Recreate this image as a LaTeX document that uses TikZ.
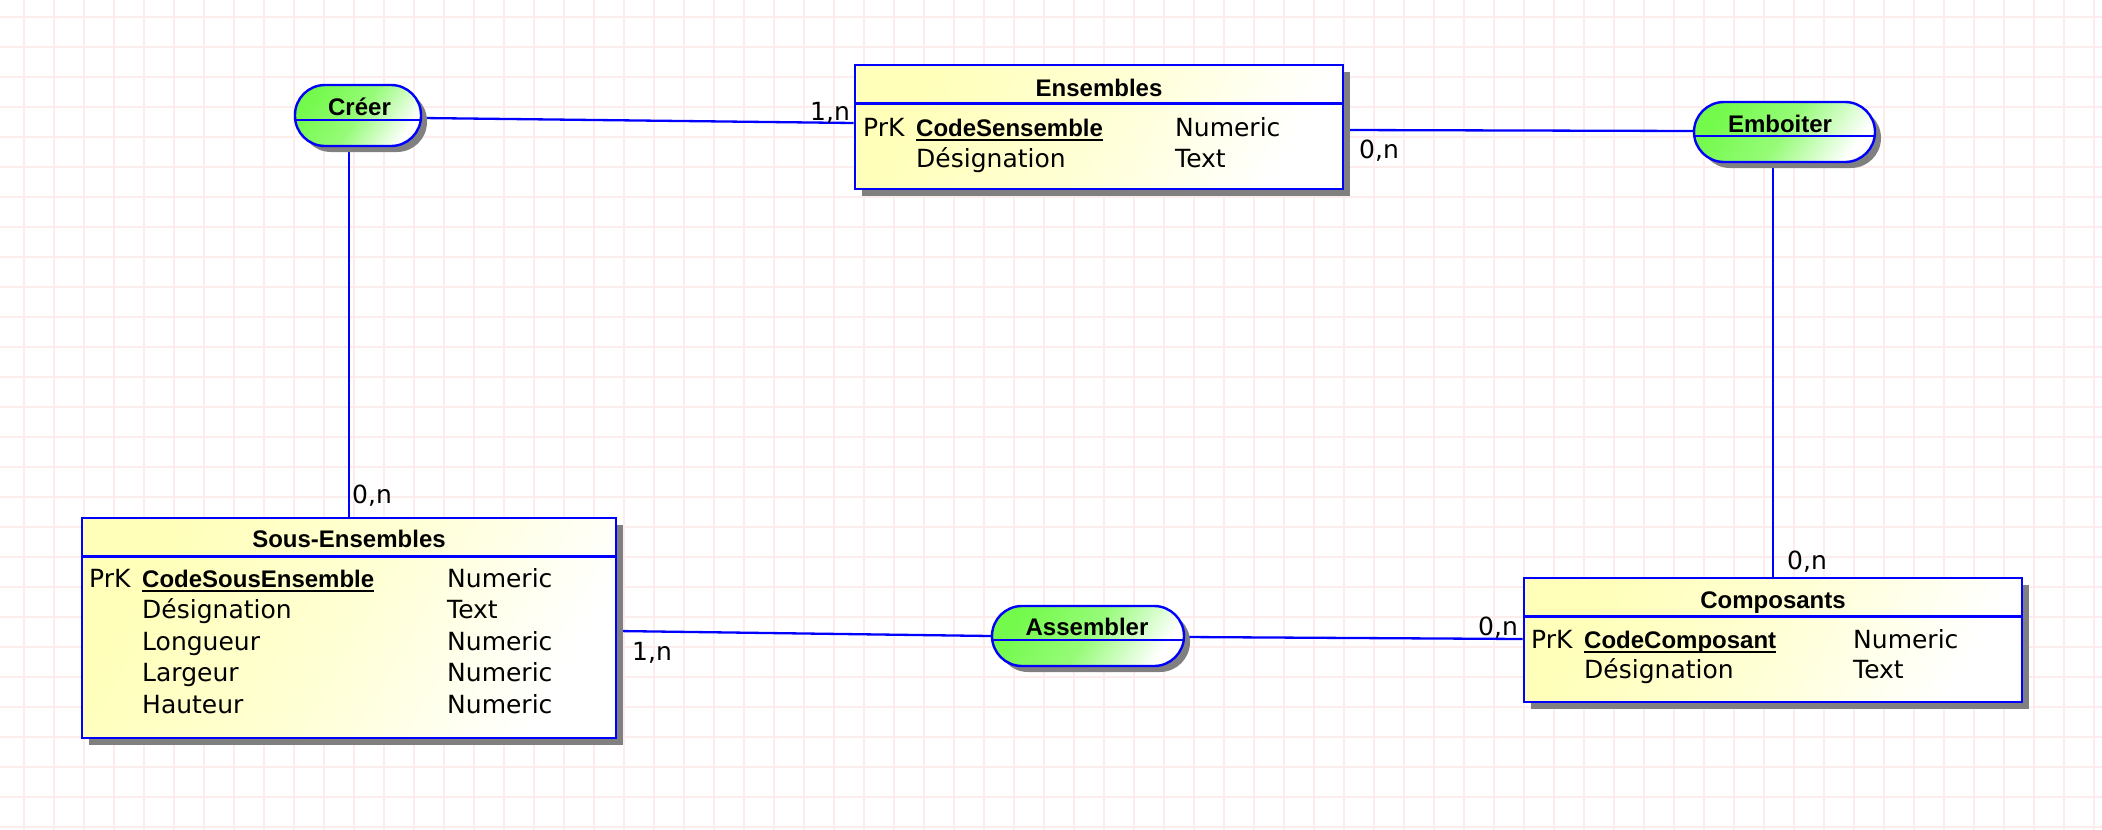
\documentclass[tikz,border=0pt]{standalone}
\usepackage{fontspec}
\setmainfont{DejaVu Sans}
\newfontfamily\libsans{Liberation Sans}
\usetikzlibrary{shadows}
\definecolor{gridpink}{RGB}{252,236,236}
\definecolor{erblue}{RGB}{0,0,255}
\definecolor{entyellow}{RGB}{255,255,185}
\definecolor{pillgreen}{RGB}{115,250,75}
\definecolor{shadowgray}{RGB}{128,128,128}
\newcommand\regfont{\fontsize{25}{30}\selectfont}
\newcommand\hdfont{\libsans\bfseries\fontsize{24}{28}\selectfont}
\pgfdeclarelayer{back}
\pgfsetlayers{back,main}
\begin{document}
\begin{tikzpicture}[x=1pt,y=-1pt,
  gridline/.style={draw=gridpink, line width=1.8pt},
  entity/.style={rectangle, draw=erblue, line width=2.8pt, inner sep=0pt,
    left color=entyellow, right color=white, middle color=entyellow!60!white, shading angle=60,
    drop shadow={shadow xshift=7pt,shadow yshift=-7pt,fill=shadowgray,opacity=1}},
  assoc/.style={rectangle, rounded corners=30pt, draw=erblue, line width=2.4pt, inner sep=0pt,
    left color=pillgreen, right color=white, middle color=pillgreen!75!white, shading angle=55,
    drop shadow={shadow xshift=6pt,shadow yshift=-6pt,fill=shadowgray,opacity=1}},
  link/.style={draw=erblue, line width=2.3pt},
  divider/.style={draw=erblue, line width=2.6pt},
  midline/.style={draw=erblue, line width=2.4pt},
  lbl/.style={inner sep=0pt, anchor=base west, font=\regfont},
  hd/.style={inner sep=0pt, anchor=base, font=\hdfont},
  key/.style={inner sep=0pt, anchor=base west, font=\hdfont},
  uline/.style={draw=black, line width=2pt},
]
\useasboundingbox (0,0) rectangle (2102,830);
\begin{pgfonlayer}{back}
  \fill[white] (0,0) rectangle (2102,830);
  \foreach \gx in {24,54,...,2094} \draw[gridline] (\gx,0) -- (\gx,830);
  \foreach \gy in {17,47,...,827} \draw[gridline] (0,\gy) -- (2102,\gy);
\end{pgfonlayer}

% entities
\node[entity, minimum width=488pt, minimum height=124pt] (ens) at (1099,127) {};
\node[entity, minimum width=534pt, minimum height=220pt] (sous) at (349,628) {};
\node[entity, minimum width=498pt, minimum height=124pt] (comp) at (1773,640) {};
\draw[divider] ([yshift=-40pt]ens.north west) -- ([yshift=-40pt]ens.north east);
\draw[divider] ([yshift=-40pt]sous.north west) -- ([yshift=-40pt]sous.north east);
\draw[divider] ([yshift=-40pt]comp.north west) -- ([yshift=-40pt]comp.north east);

% associations
\node[assoc, minimum width=126pt, minimum height=61pt] (creer) at (358,115.5) {};
\node[assoc, minimum width=181pt, minimum height=60pt] (emb) at (1784.5,132) {};
\node[assoc, minimum width=192pt, minimum height=60pt] (ass) at (1088,636) {};
\draw[midline] ([yshift=-4.5pt]creer.west) -- ([yshift=-4.5pt]creer.east);
\draw[midline] ([yshift=-4pt]emb.west) -- ([yshift=-4pt]emb.east);
\draw[midline] ([yshift=-4pt]ass.west) -- ([yshift=-4pt]ass.east);
\node[hd] (creerT) at (359.5,115) {Créer};
\node[hd] (embT) at (1780,132) {Emboiter};
\node[hd] (assT) at (1087,635) {Assembler};

% connectors
\begin{pgfonlayer}{back}
  \draw[link] ([yshift=-2.5pt]creer.east) -- ([yshift=4pt]ens.west);
  \draw[link] ([yshift=-3pt]ens.east) -- ([yshift=1pt]emb.west);
  \draw[link] (creer.south -| sous.north) -- (sous.north);
  \draw[link] (emb.south -| comp.north) -- (comp.north);
  \draw[link] ([yshift=-3pt]sous.east) -- (ass.west);
  \draw[link] ([yshift=-1pt]ass.east) -- ([yshift=1pt]comp.west);
\end{pgfonlayer}

% Ensembles contents
\node[hd] (ensT) at (1099,96) {Ensembles};
\node[lbl] (ensP) at (863,136) {PrK};
\node[key] (ensK) at (916,136) {CodeSensemble};
\node[lbl] (ensKt) at (1175,136) {Numeric};
\node[lbl] (ensD) at (916,167) {Désignation};
\node[lbl] (ensDt) at (1175,167) {Text};
\draw[uline] ([yshift=-3.5pt]ensK.base west) -- ([yshift=-3.5pt]ensK.base east);

% Sous-Ensembles contents
\node[hd] (sousT) at (349,547) {Sous-Ensembles};
\node[lbl] (sousP) at (89,587) {PrK};
\node[key] (sousK) at (142,587) {CodeSousEnsemble};
\node[lbl] (sousKt) at (447,587) {Numeric};
\node[lbl] (sousD) at (142,618.5) {Désignation};
\node[lbl] (sousDt) at (447,618.5) {Text};
\node[lbl] (sousL) at (142,650) {Longueur};
\node[lbl] (sousLt) at (447,650) {Numeric};
\node[lbl] (sousG) at (142,681.5) {Largeur};
\node[lbl] (sousGt) at (447,681.5) {Numeric};
\node[lbl] (sousH) at (142,713) {Hauteur};
\node[lbl] (sousHt) at (447,713) {Numeric};
\draw[uline] ([yshift=-3.5pt]sousK.base west) -- ([yshift=-3.5pt]sousK.base east);

% Composants contents
\node[hd] (compT) at (1773,608) {Composants};
\node[lbl] (compP) at (1531,648) {PrK};
\node[key] (compK) at (1584,648) {CodeComposant};
\node[lbl] (compKt) at (1853,648) {Numeric};
\node[lbl] (compD) at (1584,678) {Désignation};
\node[lbl] (compDt) at (1853,678) {Text};
\draw[uline] ([yshift=-3.5pt]compK.base west) -- ([yshift=-3.5pt]compK.base east);

% cardinalities
\node[lbl] (c1) at (810,120) {1,n};
\node[lbl] (c2) at (1359,158) {0,n};
\node[lbl] (c3) at (352,503) {0,n};
\node[lbl] (c4) at (632,660) {1,n};
\node[lbl] (c5) at (1478,635) {0,n};
\node[lbl] (c6) at (1787,569) {0,n};
\end{tikzpicture}
\end{document}
